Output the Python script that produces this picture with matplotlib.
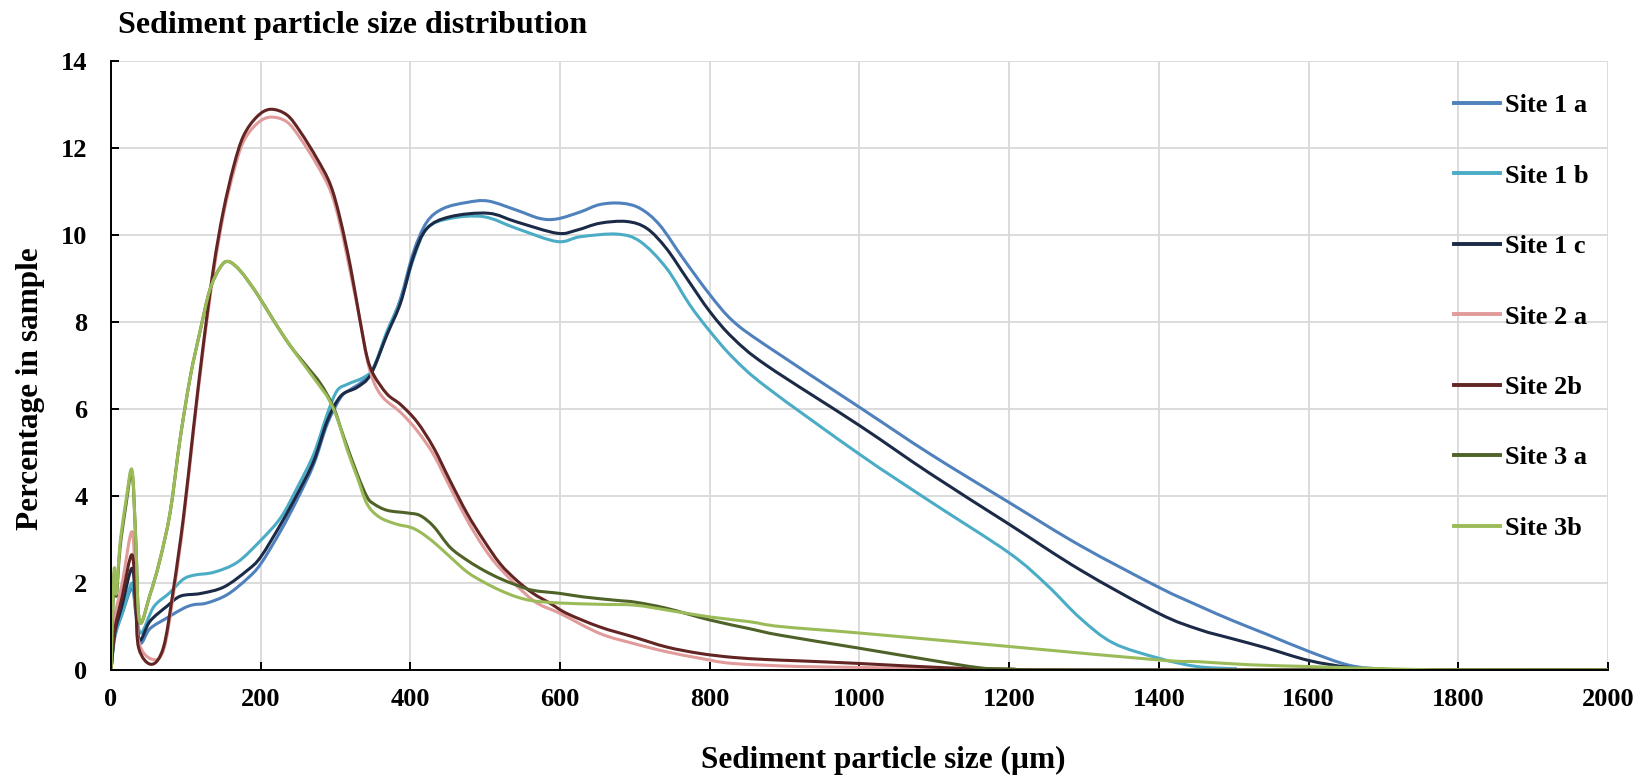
import numpy as np
import matplotlib
matplotlib.use("Agg")
import matplotlib.pyplot as plt
from matplotlib.path import Path
from matplotlib.patches import PathPatch
from matplotlib.lines import Line2D

plt.rcParams["font.family"] = ["Liberation Serif", "DejaVu Serif"]
plt.rcParams["font.weight"] = "bold"

# particle size (um) / percentage readings for each sample
site1a_x = [0, 5, 15, 28, 33, 39, 52, 75, 97, 110, 128, 155, 182, 200, 227, 249, 271, 289, 307, 320,
            335, 350, 369, 387, 404, 422, 444, 476, 504, 542, 573, 596, 627, 653, 682, 707, 733, 764,
            800, 831, 876, 1000, 1094, 1200, 1295, 1400, 1454, 1498, 1543, 1600, 1654, 1700, 1750, 2000]
site1a_y = [0, 0.75, 1.3, 1.88, 1.3, 0.62, 0.95, 1.2, 1.42, 1.5, 1.54, 1.73, 2.1, 2.44, 3.21, 3.93, 4.74,
            5.66, 6.27, 6.45, 6.62, 6.9, 7.75, 8.55, 9.6, 10.3, 10.61, 10.75, 10.78, 10.57, 10.38, 10.37,
            10.53, 10.7, 10.73, 10.61, 10.23, 9.47, 8.63, 8.02, 7.45, 6.04, 4.97, 3.85, 2.86, 1.9, 1.47,
            1.14, 0.83, 0.43, 0.11, 0.02, 0, 0]

site1b_x = [0, 5, 15, 28, 33, 40, 57, 78, 96, 111, 138, 169, 200, 227, 249, 271, 289, 302, 316, 338,
            351, 369, 387, 404, 422, 453, 498, 542, 596, 627, 676, 707, 742, 773, 800, 831, 876, 1000,
            1094, 1200, 1250, 1295, 1339, 1400, 1451, 1500, 1550, 2000]
site1b_y = [0, 0.8, 1.3, 2.0, 1.4, 0.85, 1.45, 1.77, 2.08, 2.18, 2.25, 2.48, 2.98, 3.51, 4.2, 4.97, 5.89,
            6.42, 6.57, 6.73, 6.96, 7.8, 8.5, 9.45, 10.15, 10.38, 10.42, 10.15, 9.85, 9.96, 10.02, 9.85,
            9.24, 8.4, 7.79, 7.18, 6.5, 4.96, 3.88, 2.69, 1.96, 1.19, 0.62, 0.27, 0.08, 0.03, 0, 0]

site1c_x = [0, 5, 15, 28, 33, 38, 52, 75, 93, 120, 151, 182, 200, 227, 249, 271, 289, 307, 329, 347,
            369, 387, 404, 422, 453, 504, 542, 596, 622, 653, 689, 716, 742, 769, 800, 831, 876, 1000,
            1094, 1200, 1295, 1400, 1454, 1498, 1543, 1600, 1654, 1700, 1750, 2000]
site1c_y = [0, 0.85, 1.5, 2.34, 1.5, 0.69, 1.12, 1.47, 1.7, 1.76, 1.91, 2.29, 2.6, 3.36, 4.05, 4.81, 5.73,
            6.3, 6.5, 6.8, 7.72, 8.45, 9.5, 10.15, 10.42, 10.5, 10.3, 10.04, 10.11, 10.27, 10.31, 10.15,
            9.69, 9.01, 8.24, 7.63, 7.0, 5.62, 4.52, 3.35, 2.3, 1.3, 0.93, 0.72, 0.51, 0.22, 0.06,
            0.01, 0, 0]

site2a_x = [0, 5, 15, 28, 33, 37, 54, 70, 83, 97, 110, 123, 137, 150, 164, 177, 195, 213, 235, 253, 275,
            293, 306, 320, 333, 342, 351, 364, 387, 409, 431, 453, 476, 498, 520, 564, 600, 653, 698,
            742, 787, 831, 920, 1000, 1117, 1200, 1300, 2000]
site2a_y = [0, 1.2, 2.0, 3.18, 1.8, 0.65, 0.25, 0.45, 1.7, 3.45, 5.45, 7.35, 9.15, 10.45, 11.47, 12.15,
            12.56, 12.71, 12.6, 12.22, 11.62, 11.02, 10.25, 9.12, 8.0, 7.15, 6.62, 6.25, 5.92, 5.5, 4.95,
            4.2, 3.44, 2.82, 2.33, 1.6, 1.3, 0.84, 0.61, 0.42, 0.27, 0.15, 0.08, 0.06, 0.02, 0.01, 0, 0]

site2b_x = [0, 5, 15, 28, 33, 37, 54, 70, 83, 97, 110, 123, 137, 150, 164, 177, 195, 213, 235, 253, 275,
            293, 306, 320, 333, 342, 351, 369, 387, 409, 431, 453, 476, 498, 520, 542, 564, 587, 609,
            653, 698, 742, 787, 831, 876, 920, 1000, 1117, 1200, 1300, 2000]
site2b_y = [0, 0.92, 1.7, 2.65, 1.5, 0.5, 0.13, 0.52, 1.82, 3.55, 5.54, 7.44, 9.26, 10.55, 11.59, 12.28,
            12.72, 12.89, 12.76, 12.37, 11.76, 11.16, 10.38, 9.26, 8.0, 7.2, 6.78, 6.34, 6.1, 5.7, 5.11,
            4.35, 3.59, 2.98, 2.44, 2.06, 1.76, 1.53, 1.3, 0.99, 0.76, 0.53, 0.38, 0.29, 0.24, 0.21, 0.15,
            0.05, 0.02, 0, 0]

site3a_x = [0, 4, 7, 12, 20, 28, 33, 38, 52, 65, 79, 92, 106, 119, 132, 146, 157, 173, 195, 217, 240,
            262, 280, 297, 311, 329, 342, 351, 369, 396, 413, 431, 453, 476, 498, 520, 542, 564, 600,
            631, 676, 700, 742, 800, 853, 894, 1000, 1094, 1161, 1200, 1300, 2000]
site3a_y = [0, 2.2, 1.7, 2.8, 3.8, 4.55, 3.0, 1.12, 1.73, 2.51, 3.63, 5.28, 6.75, 7.79, 8.74, 9.26, 9.39,
            9.17, 8.65, 8.04, 7.44, 6.97, 6.58, 6.05, 5.35, 4.5, 3.98, 3.82, 3.67, 3.61, 3.55, 3.3, 2.82,
            2.52, 2.29, 2.1, 1.95, 1.83, 1.76, 1.68, 1.6, 1.56, 1.42, 1.15, 0.95, 0.8, 0.5, 0.23, 0.05,
            0.02, 0, 0]

site3b_x = [0, 4, 7, 12, 20, 28, 33, 38, 52, 65, 79, 92, 106, 119, 132, 146, 157, 173, 195, 217, 240,
            262, 280, 290, 302, 316, 329, 342, 358, 380, 400, 413, 431, 453, 476, 498, 520, 542, 564,
            600, 653, 700, 742, 800, 853, 894, 1000, 1200, 1400, 1454, 1522, 1600, 1677, 1750, 1800, 2000]
site3b_y = [0, 2.3, 1.75, 2.9, 3.9, 4.6, 3.0, 1.12, 1.73, 2.51, 3.63, 5.28, 6.75, 7.79, 8.74, 9.26, 9.39,
            9.17, 8.65, 8.04, 7.44, 6.92, 6.5, 6.25, 5.8, 5.04, 4.43, 3.82, 3.52, 3.36, 3.28, 3.17, 2.94,
            2.6, 2.25, 2.02, 1.83, 1.68, 1.59, 1.54, 1.51, 1.49, 1.38, 1.22, 1.11, 1.0, 0.85, 0.54, 0.23,
            0.19, 0.12, 0.08, 0.04, 0.01, 0, 0]

labels = ["Site 1 a", "Site 1 b", "Site 1 c", "Site 2 a", "Site 2b", "Site 3 a", "Site 3b"]
colors = ["#4F81BD", "#4BACC6", "#1B2A47", "#E09B9A", "#632523", "#4F6228", "#9BBB59"]
series = [(site1a_x, site1a_y), (site1b_x, site1b_y), (site1c_x, site1c_y),
          (site2a_x, site2a_y), (site2b_x, site2b_y), (site3a_x, site3a_y), (site3b_x, site3b_y)]


def smooth_path(x, y, k=1 / 6):
    """Bezier path through the points, spreadsheet-style smoothed line."""
    p = np.column_stack([x, y]).astype(float)
    n = len(p)
    verts = [p[0]]
    codes = [Path.MOVETO]
    for i in range(n - 1):
        prev = p[i - 1] if i > 0 else p[i]
        nxt = p[i + 2] if i + 2 < n else p[i + 1]
        c1 = p[i] + (p[i + 1] - prev) * k
        c2 = p[i + 1] - (nxt - p[i]) * k
        verts += [c1, c2, p[i + 1]]
        codes += [Path.CURVE4] * 3
    return Path(verts, codes)


fig = plt.figure(figsize=(16.5, 7.76), dpi=100)
ax = fig.add_axes([0.0673, 0.1366, 0.9072, 0.7848])

for (sx, sy), col in zip(series, colors):
    ax.add_patch(PathPatch(smooth_path(sx, sy), fill=False, edgecolor=col, lw=2.2,
                           capstyle="round", joinstyle="round", zorder=3))

ax.set_xlim(0, 2000)
ax.set_ylim(0, 14)
ax.set_xticks(np.arange(0, 2001, 200))
ax.set_yticks(np.arange(0, 15, 2))
ax.grid(True, color="#D9D9D9", lw=1.3, zorder=0)
ax.set_axisbelow(True)
for side in ("top", "right"):
    ax.spines[side].set_visible(False)
for side in ("left", "bottom"):
    ax.spines[side].set_linewidth(1.4)
    ax.spines[side].set_zorder(4)
ax.tick_params(direction="in", length=6, width=1.4, labelsize=19)
ax.tick_params(axis="x", pad=13)
ax.tick_params(axis="y", pad=17)
for t in ax.get_xticklabels() + ax.get_yticklabels():
    t.set_fontweight("bold")

ax.set_xlabel("Sediment particle size (µm)", fontsize=22.5, fontweight="bold")
ax.set_ylabel("Percentage in sample", fontsize=22.5, fontweight="bold")
ax.xaxis.set_label_coords(0.516, -0.124)
ax.yaxis.set_label_coords(-0.0438, 0.462)

fig.text(0.0715, 0.967, "Sediment particle size distribution", fontsize=23,
         fontweight="bold", va="center", ha="left")

handles = [Line2D([], [], color=c, lw=2.8) for c in colors]
ax.legend(handles, labels, loc="upper left", bbox_to_anchor=(0.8667, 0.9098),
          bbox_transform=fig.transFigure, frameon=False,
          handlelength=1.74, handletextpad=0.2, labelspacing=1.78,
          prop={"weight": "bold", "size": 19})

fig.savefig("out.png", dpi=100)
plt.close(fig)
